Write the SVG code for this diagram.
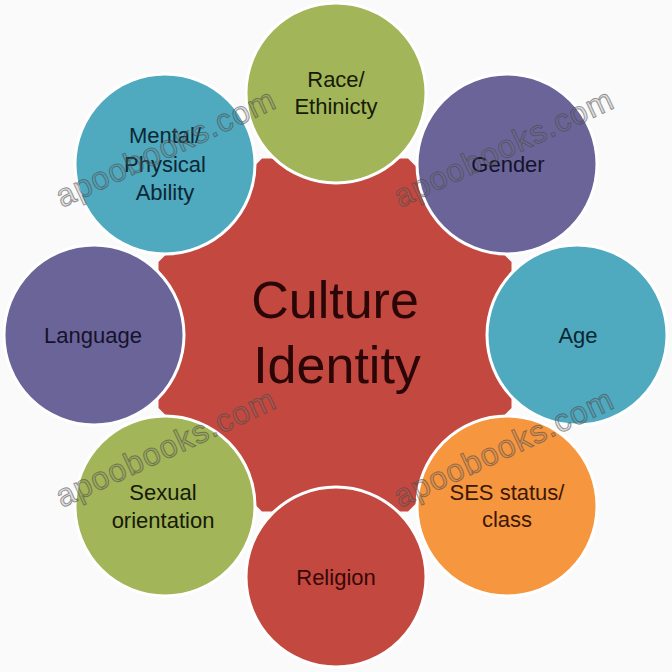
<svg xmlns="http://www.w3.org/2000/svg" width="672" height="672" viewBox="0 0 672 672">
<style>
.c{stroke:#ffffff;stroke-width:3}
.t{font-family:"Liberation Sans",Arial,sans-serif;font-size:22px;text-anchor:middle}
.big{font-family:"Liberation Sans",Arial,sans-serif;font-size:52px;text-anchor:middle;fill:#2a0606}
.wm{font-family:"Liberation Sans",Arial,sans-serif;font-size:32px;fill:#777777;fill-opacity:0.22;stroke:#444444;stroke-opacity:0.55;stroke-width:1}
</style>
<rect width="672" height="672" fill="#fafafa"/>
<g id="center">
<polygon fill="#c3483f" points="511.5,262 511.5,408 408,511.5 262,511.5 158.5,408 158.5,262 262,158.5 408,158.5"/>
<text class="big" x="335" y="318">Culture</text>
<text class="big" x="337" y="383">Identity</text>
</g>
<g id="connectors"></g>
<g id="race">
<circle class="c" cx="336" cy="93" r="90" fill="#a2b558"/>
<text class="t" x="336" y="87" fill="#161a06">Race/</text>
<text class="t" x="336" y="114" fill="#161a06">Ethinicty</text>
</g>
<g id="gender">
<circle class="c" cx="507" cy="164" r="90" fill="#6a6499"/>
<text class="t" x="508" y="172" fill="#15122c">Gender</text>
</g>
<g id="age">
<circle class="c" cx="577" cy="335" r="90" fill="#4fa9bf"/>
<text class="t" x="578" y="343" fill="#0b2733">Age</text>
</g>
<g id="ses">
<circle class="c" cx="507" cy="506" r="90" fill="#f6963f"/>
<text class="t" x="507" y="500" fill="#3c1806">SES status/</text>
<text class="t" x="507" y="527" fill="#3c1806">class</text>
</g>
<g id="religion">
<circle class="c" cx="336" cy="577" r="90" fill="#c3483f"/>
<text class="t" x="336" y="585" fill="#380707">Religion</text>
</g>
<g id="sexual">
<circle class="c" cx="165" cy="506" r="90" fill="#a2b558"/>
<text class="t" x="163" y="500" fill="#161a06">Sexual</text>
<text class="t" x="163" y="528" fill="#161a06">orientation</text>
</g>
<g id="language">
<circle class="c" cx="94" cy="335" r="90" fill="#6a6499"/>
<text class="t" x="93" y="343" fill="#15122c">Language</text>
</g>
<g id="mental">
<circle class="c" cx="165" cy="164" r="90" fill="#4fa9bf"/>
<text class="t" x="165" y="143" fill="#0b2733">Mental/</text>
<text class="t" x="165" y="172" fill="#0b2733">Physical</text>
<text class="t" x="165" y="200" fill="#0b2733">Ability</text>
</g>
<g id="watermarks">
<text class="wm" transform="translate(62,208) rotate(-25)" textLength="238">apoobooks.com</text>
<text class="wm" transform="translate(400,208) rotate(-25)" textLength="238">apoobooks.com</text>
<text class="wm" transform="translate(62,508) rotate(-25)" textLength="238">apoobooks.com</text>
<text class="wm" transform="translate(400,508) rotate(-25)" textLength="238">apoobooks.com</text>
</g>
</svg>
